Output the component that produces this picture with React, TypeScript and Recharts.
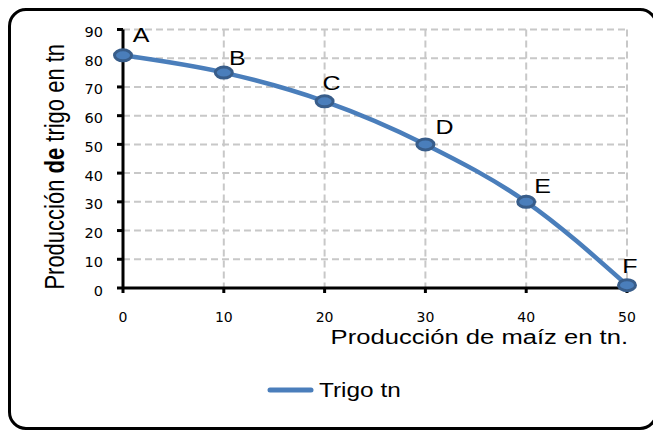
import React from 'react';
import { LineChart, Line, XAxis, YAxis, CartesianGrid, Legend, LabelList, Label } from 'recharts';

const maiz = [0, 10, 20, 30, 40, 50];
const trigo = [81, 75, 65, 50, 30, 1];
const pointLabels = ['A', 'B', 'C', 'D', 'E', 'F'];
const xTicks = [0, 10, 20, 30, 40, 50];
const yTicks = [0, 10, 20, 30, 40, 50, 60, 70, 80, 90];

// where each letter sits relative to its point
const labelOffsets = [[18, -20], [13.5, -14], [7, -18], [19, -17], [16.5, -15], [3, -19]];

const data = maiz.map((m, i) => ({ maiz: m, trigo: trigo[i] }));

const BLUE = '#4A7EBB';
const RING = '#385D8A';
const SANS = '"Liberation Sans", Arial, sans-serif';
const TICK_FONT = '"DejaVu Sans", Verdana, sans-serif';

const XTick = (props: any) => (
  <text x={props.x} y={props.y + 18} textAnchor="middle" dominantBaseline="central"
    fontFamily={TICK_FONT} fontSize={14} fill="#000">
    {props.payload.value}
  </text>
);

const YTick = (props: any) => (
  <text x={props.x} y={props.y + 2.5} textAnchor="end" dominantBaseline="central"
    fontFamily={TICK_FONT} fontSize={14.5} fill="#000">
    {props.payload.value}
  </text>
);

const Dot = (props: any) => {
  const { cx, cy, index } = props;
  return <ellipse key={`dot-${index}`} cx={cx} cy={cy} rx={8.5} ry={5.5} fill={BLUE} stroke={RING} strokeWidth={3} />;
};

const PointLabel = (props: any) => {
  const { x, y, index } = props;
  const [dx, dy] = labelOffsets[index];
  return (
    <text transform={`translate(${x + dx},${y + dy}) scale(1.25,1)`} textAnchor="middle"
      dominantBaseline="central" fontFamily={SANS} fontSize={20} fill="#000">
      {pointLabels[index]}
    </text>
  );
};

const XTitle = (props: any) => {
  const vb = props.viewBox;
  return (
    <text transform={`translate(${vb.x + vb.width + 1},${vb.y + 56}) scale(1.28,1)`} textAnchor="end"
      fontFamily={SANS} fontSize={20} fill="#000">
      Producción de maíz en tn.
    </text>
  );
};

const YTitle = (props: any) => {
  const vb = props.viewBox;
  return (
    <text transform={`translate(56,${vb.y + vb.height / 2 + 8}) scale(1.25,1) rotate(-90)`} textAnchor="middle"
      fontFamily={SANS} fontSize={22} fill="#000">
      <tspan>Producción </tspan>
      <tspan fontWeight="bold">de</tspan>
      <tspan> trigo en tn</tspan>
    </text>
  );
};

const LegendBox = () => (
  <svg width={170} height={30} style={{ display: 'block' }}>
    <line x1={3} y1={15} x2={44} y2={15} stroke={BLUE} strokeWidth={5} strokeLinecap="round" />
    <text transform="translate(52,15) scale(1.22,1)" dominantBaseline="central"
      fontFamily={SANS} fontSize={20} fill="#000">
      Trigo tn
    </text>
  </svg>
);

export default function App() {
  return (
    <div style={{ position: 'relative', width: 650, height: 422, border: '3px solid #000', borderRadius: 18, boxSizing: 'border-box' }}>
      <div style={{ position: 'absolute', left: -3, top: -3 }}>
        <LineChart width={650} height={422} data={data} margin={{ top: 21.5, right: 31, bottom: 112, left: 0 }}>
          <CartesianGrid stroke="#C8C8C8" strokeWidth={2} strokeDasharray="7 4" />
          <XAxis dataKey="maiz" type="number" domain={[0, 50]} ticks={xTicks} height={30}
            axisLine={{ stroke: '#000', strokeWidth: 3 }} tickLine={{ stroke: '#000', strokeWidth: 3 }}
            tickSize={5} tickMargin={6} tick={<XTick />} interval={0}>
            <Label content={<XTitle />} />
          </XAxis>
          <YAxis type="number" domain={[0, 90]} ticks={yTicks} width={115}
            axisLine={{ stroke: '#000', strokeWidth: 3 }} tickLine={{ stroke: '#000', strokeWidth: 3 }}
            tickSize={6} tickMargin={14} tick={<YTick />} interval={0}>
            <Label content={<YTitle />} />
          </YAxis>
          <Legend layout="horizontal" verticalAlign="middle" align="center"
            wrapperStyle={{ top: 367, left: 259, width: 170 }} content={<LegendBox />} />
          <Line type="monotone" dataKey="trigo" name="Trigo tn" stroke={BLUE} strokeWidth={4.5}
            dot={Dot} activeDot={false} isAnimationActive={false}>
            <LabelList dataKey="trigo" content={<PointLabel />} />
          </Line>
        </LineChart>
      </div>
    </div>
  );
}
